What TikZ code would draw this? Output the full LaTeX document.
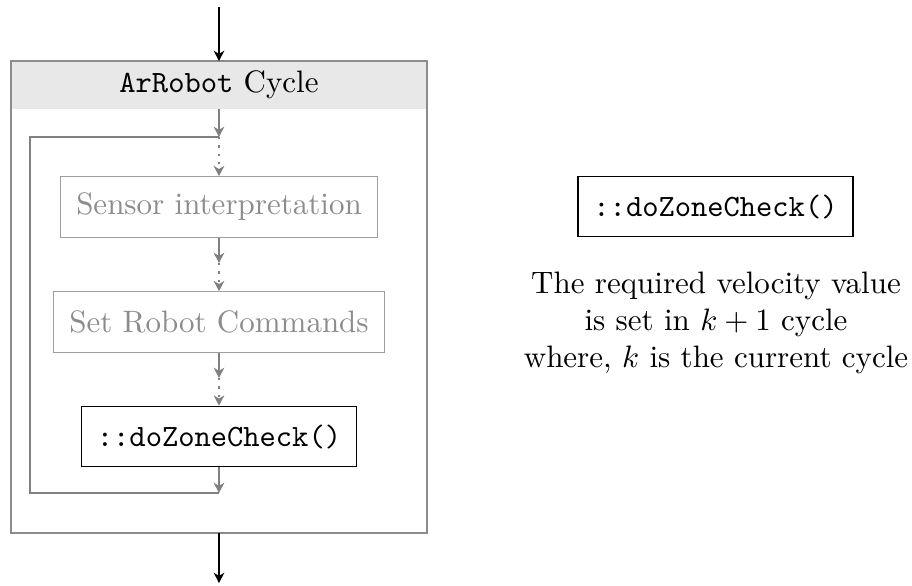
\documentclass[tikz,border=0pt]{standalone}
\usetikzlibrary{arrows.meta}

\begin{document}
\begin{tikzpicture}[x=0.3226pt, y=-0.3226pt,
    stage/.style={draw=black!38, text=black!45, inner xsep=5pt, minimum height=19.5pt},
    active/.style={draw=black, inner xsep=5pt, minimum height=19.5pt, font=\ttfamily},
    flow/.style={-{Stealth[length=3.3pt, width=3.4pt, inset=1pt]}, draw=black!50, line width=0.7pt},
    dotflow/.style={flow, dotted},
    mainflow/.style={-{Stealth[length=3.3pt, width=3.4pt, inset=1pt]}, draw=black, line width=0.7pt}]
    \useasboundingbox (0,0) rectangle (912,585);
    % outer cycle box with header band
    \fill[black!9] (11,61) rectangle (427,109);
    \draw[black!45] (11,61) rectangle (427,533);
    \node (cycle) at (219,85) {\texttt{ArRobot} Cycle};
    \coordinate (entry) at (219,7);
    \coordinate (boxtop) at (219,61);
    \coordinate (hdr) at (219,109);
    \coordinate (boxbot) at (219,533);
    \coordinate (exit) at (219,583);
    % steps inside the cycle
    \node[stage] (sensor) at (219,207) {Sensor interpretation};
    \node[stage] (robot) at (219,322) {Set Robot Commands};
    \node[active] (zone) at (219,436.5) {::doZoneCheck()};
    \coordinate (looptop) at (219,137);
    \coordinate (loopbot) at (219,493);
    \coordinate (mid1) at (219,263);
    \coordinate (mid2) at (219,378);
    % connectors
    \draw[mainflow] (entry) -- (boxtop);
    \draw[mainflow] (boxbot) -- (exit);
    \draw[flow] (hdr) -- (looptop);
    \draw[dotflow] (looptop) -- (sensor);
    \draw[flow] (sensor) -- (mid1);
    \draw[dotflow] (mid1) -- (robot);
    \draw[flow] (robot) -- (mid2);
    \draw[dotflow] (mid2) -- (zone);
    \draw[flow] (zone) -- (loopbot);
    \draw[draw=black!50, line width=0.7pt] (loopbot) -| (30,137) -- (looptop);
    % note on the right
    \node[active] (check) at (715.5,206.5) {::doZoneCheck()};
    \node[align=center] (note) at (716,323) {The required velocity value\\ is set in $k+1$ cycle\\ where, $k$ is the current cycle};
\end{tikzpicture}
\end{document}
